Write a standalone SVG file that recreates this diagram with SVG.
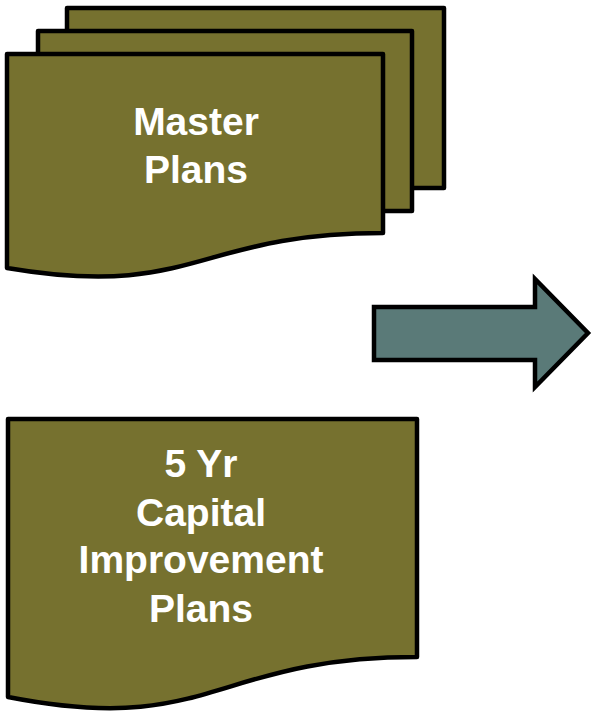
<svg xmlns="http://www.w3.org/2000/svg" width="595" height="712" viewBox="0 0 595 712">
<style>
.doc{fill:#76712f;stroke:#000;stroke-width:4.5;stroke-linejoin:round}
.arrow{fill:#5a7a78;stroke:#000;stroke-width:4.5;stroke-linejoin:miter}
.lbl{font-family:"Liberation Sans",Arial,sans-serif;font-weight:bold;font-size:39px;fill:#fff;text-anchor:middle}
</style>
<rect width="595" height="712" fill="#fff"/>
<g id="master-plans">
<rect class="doc" x="67" y="8" width="377" height="180"/>
<rect class="doc" x="38" y="31" width="374" height="180"/>
<path class="doc" d="M7,54 L383,54 L383,233 C195,233 195,300 7,268 Z"/>
<text class="lbl" x="196" y="135">Master</text>
<text class="lbl" x="196" y="183">Plans</text>
</g>
<g id="cip">
<path class="doc" d="M8,419 L417,419 L417,657 C212,657 212,737 8,697 Z"/>
<text class="lbl" x="201" y="477">5 Yr</text>
<text class="lbl" x="201" y="526">Capital</text>
<text class="lbl" x="201" y="573">Improvement</text>
<text class="lbl" x="201" y="622">Plans</text>
</g>
<g id="connectors">
<path class="arrow" d="M374,307 L535,307 L535,279 L588,333 L535,387 L535,360 L374,360 Z"/>
</g>
</svg>
